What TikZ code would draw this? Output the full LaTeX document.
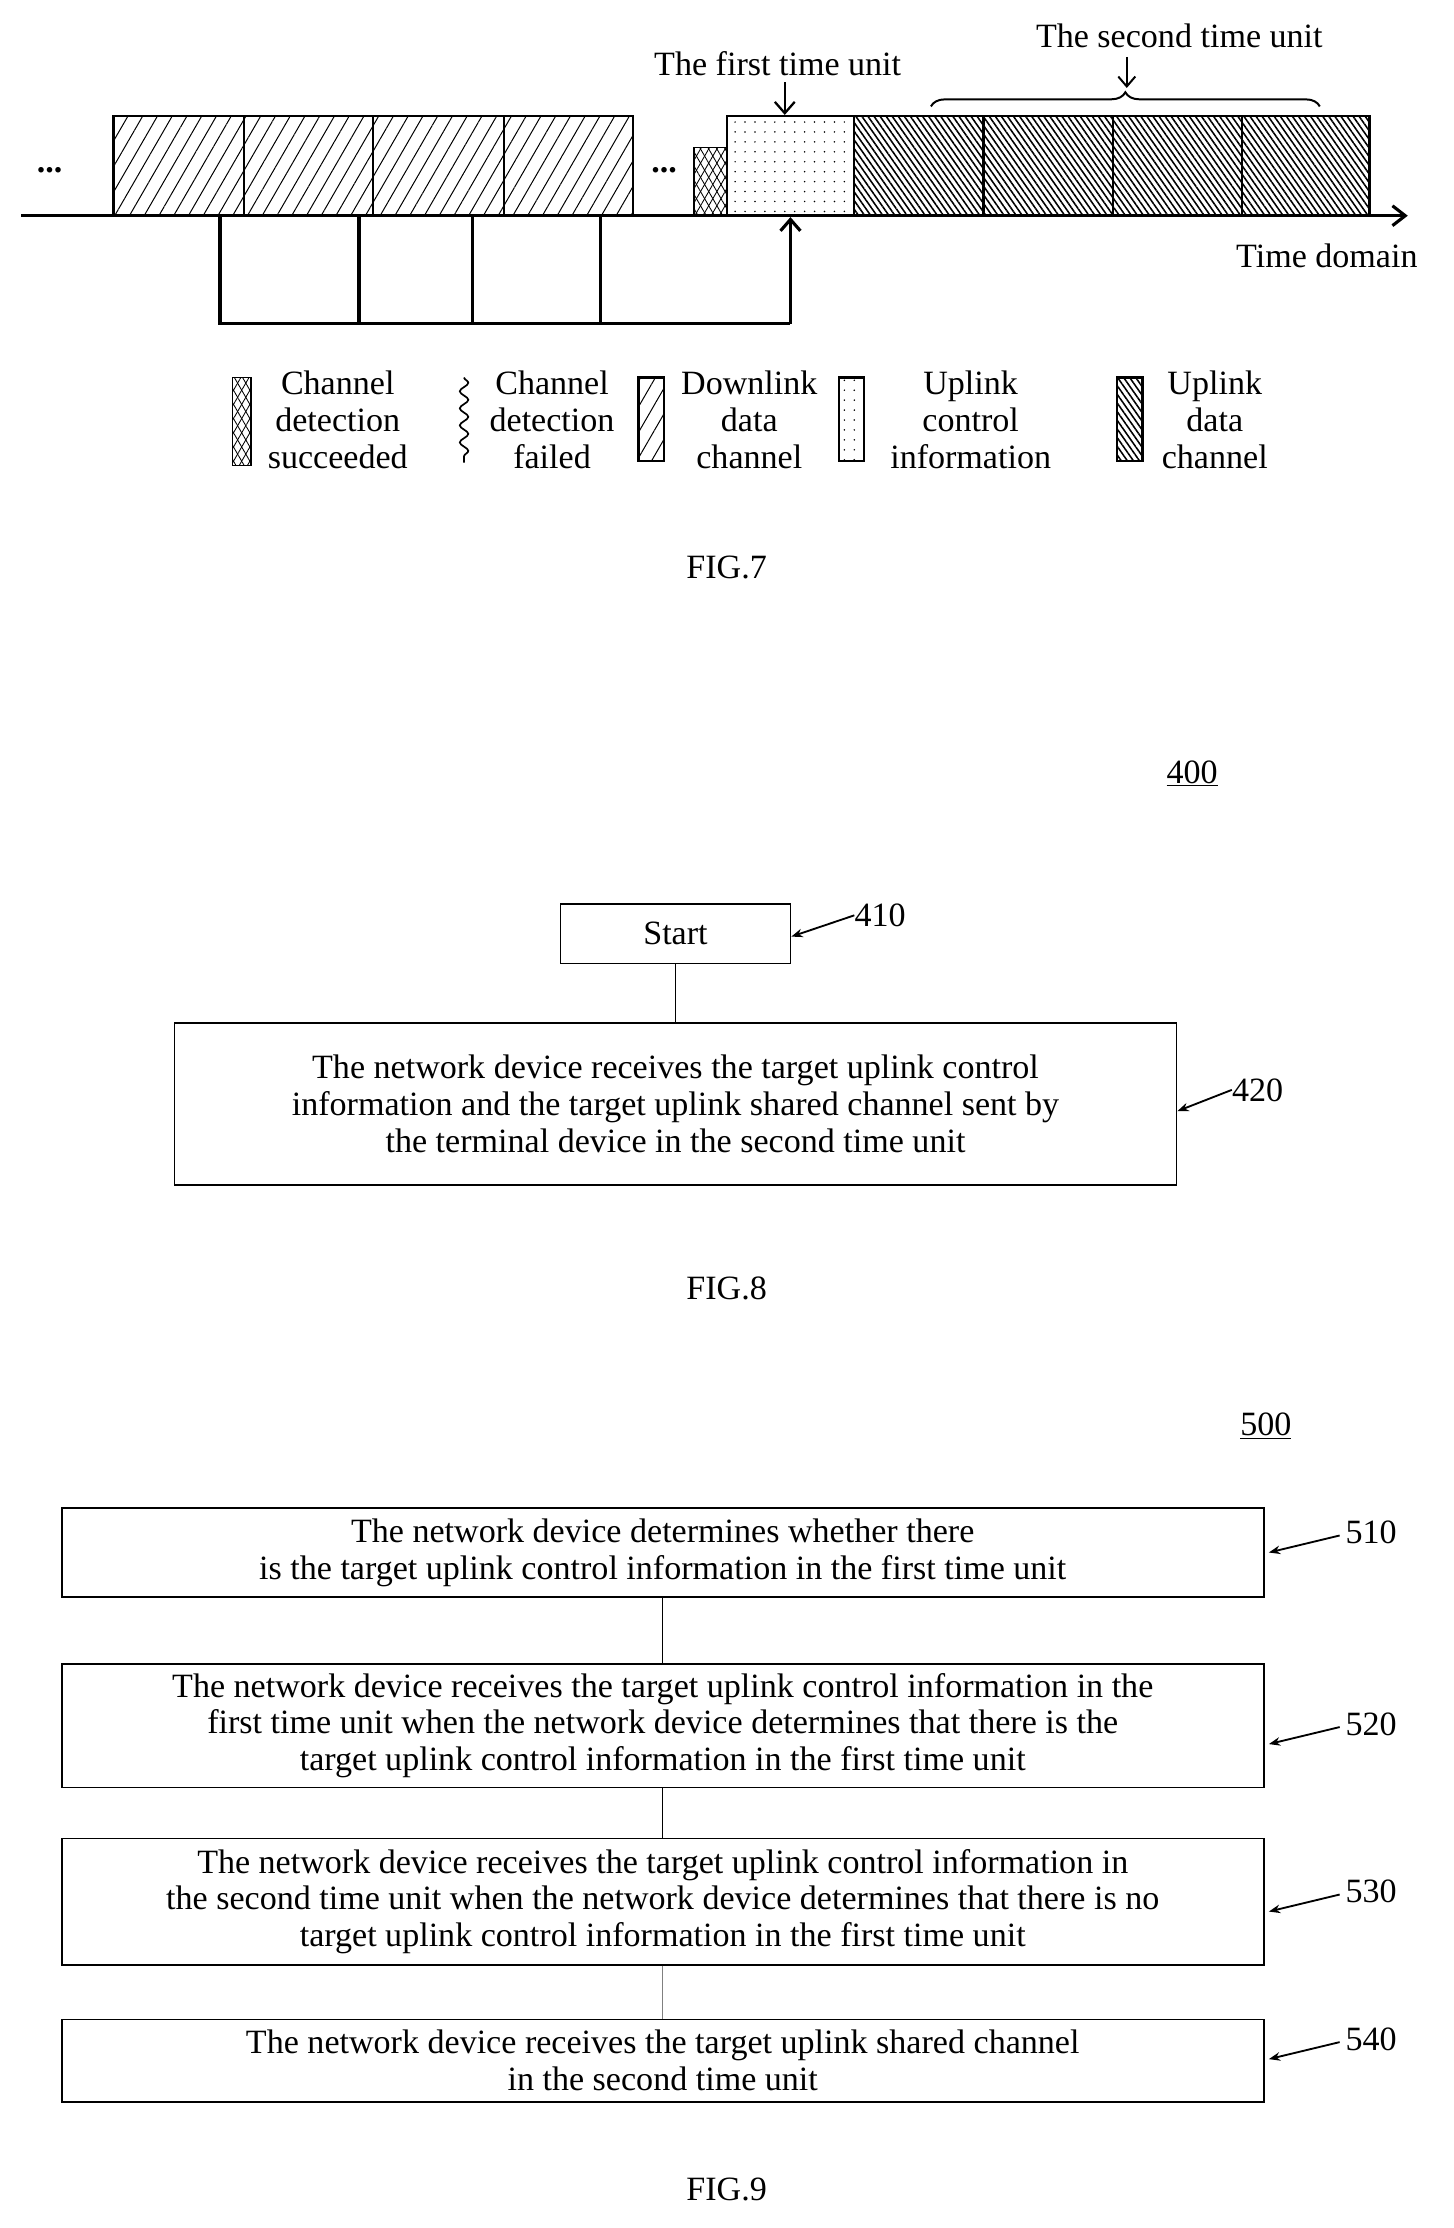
\documentclass[tikz,border=0pt]{standalone}
\usepackage{fontspec}
\setmainfont{Liberation Serif}
\usetikzlibrary{patterns,patterns.meta,arrows.meta,decorations.pathreplacing,decorations.pathmorphing}
\begin{document}
\begin{tikzpicture}[x=1pt,y=-1pt,
  txt/.style={font=\fontsize{24}{26}\selectfont,align=center,inner sep=0pt},
  box/.style={draw,line width=1.2pt,txt},
  thick line/.style={line width=2.2pt},
  dl/.style={pattern={Lines[angle=60,distance=9pt,line width=0.7pt]}},
  ul/.style={pattern={Lines[angle=-55,distance=3.5pt,line width=1.1pt]}},
  uci/.style={pattern={Dots[distance=7pt,radius=0.6pt]}},
  cd/.style={pattern={Lines[angle=60,distance=5pt,line width=0.6pt]},postaction={pattern={Lines[angle=-60,distance=5pt,line width=0.6pt]}}},
  lab/.style={-{Stealth[length=8pt,width=6pt]},line width=1.3pt}]
\useasboundingbox (0,0) rectangle (1024,1570);
% ---------- FIG 7 ----------
\foreach \a/\b in {80/172,172/263,263/355,355/446}{\draw[line width=1.5pt,dl] (\a,82) rectangle (\b,152);}
\draw[line width=1pt,cd] (489,104) rectangle (512,152);
\draw[line width=1.5pt,uci] (512,82) rectangle (602,152);
\foreach \a/\b in {602/693,693/784,784/875,875/965}{\draw[line width=1.5pt,ul] (\a,82) rectangle (\b,152);}
\coordinate (ax0) at (15,152); \coordinate (ax1) at (992,152);
\draw[thick line,-{Straight Barb[length=9pt,width=14pt]}] (ax0) -- (ax1);
\node[txt] (td) at (935,180) {Time domain};
\node[txt] (d1) at (35,120) {\textbf{...}};
\node[txt] (d2) at (468,120) {\textbf{...}};
% bracket below
\draw[thick line] (155,152) -- (155,228) -- (557,228);
\foreach \x in {253,333,423}{\draw[thick line] (\x,152) -- (\x,228);}
\coordinate (up) at (557,153);
\draw[thick line,-{Straight Barb[length=8pt,width=14pt]}] (557,228) -- (up);
\node[txt] (f1) at (548,45) {The first time unit};
\coordinate (f1t) at (553,81);
\draw[line width=1.6pt,-{Straight Barb[length=8pt,width=14pt]}] (553,58) -- (f1t);
\node[txt] (f2) at (831,25) {The second time unit};
\draw[line width=1.4pt,decorate,decoration={brace,amplitude=10pt,mirror}] (930,75) -- (656,75);
\coordinate (br) at (794,62);
\draw[line width=1.4pt,-{Straight Barb[length=7pt,width=12pt]}] (794,40) -- (br);
% legend
\draw[line width=1pt,cd] (164,266) rectangle (177,328);
\node[txt] (l1) at (238,296) {Channel\\detection\\succeeded};
\draw[line width=1.2pt,decorate,decoration={snake,amplitude=3pt,segment length=12pt}] (327,266) -- (327,326);
\node[txt] (l2) at (389,296) {Channel\\detection\\failed};
\draw[line width=1.6pt,dl] (450,266) rectangle (468,325);
\node[txt] (l3) at (528,296) {Downlink\\data\\channel};
\draw[line width=1.6pt,uci] (591,266) rectangle (609,325);
\node[txt] (l4) at (684,296) {Uplink\\control\\information};
\draw[line width=1.6pt,ul] (787,266) rectangle (805,325);
\node[txt] (l5) at (856,296) {Uplink\\data\\channel};
\node[txt] (fig7) at (512,400) {FIG.7};
% ---------- FIG 8 ----------
\node[txt] (n400) at (840,545) {\underline{400}};
\node[box,minimum width=162pt,minimum height=42pt] (start) at (476,658) {Start};
\node[box,minimum width=706pt,minimum height=114pt] (b420) at (476,778) {The network device receives the target uplink control\\information and the target uplink shared channel sent by\\the terminal device in the second time unit};
\draw[line width=1pt] (start) -- (b420);
\node[txt,anchor=west] (n410) at (602,645) {410};
\draw[lab] (n410.west) -- (start.east|-0,660);
\node[txt,anchor=west] (n420) at (868,768) {420};
\draw[lab] (n420.west) -- (b420.east|-0,783);
\node[txt] (fig8) at (512,908) {FIG.8};
% ---------- FIG 9 ----------
\node[txt] (n500) at (892,1005) {\underline{500}};
\node[box,minimum width=847pt,minimum height=63pt] (b510) at (467,1094) {The network device determines whether there\\is the target uplink control information in the first time unit};
\node[box,minimum width=847pt,minimum height=87pt] (b520) at (467,1216) {The network device receives the target uplink control information in the\\first time unit when the network device determines that there is the\\target uplink control information in the first time unit};
\node[box,minimum width=847pt,minimum height=89pt] (b530) at (467,1340) {The network device receives the target uplink control information in\\the second time unit when the network device determines that there is no\\target uplink control information in the first time unit};
\node[box,minimum width=847pt,minimum height=58pt] (b540) at (467,1452) {The network device receives the target uplink shared channel\\in the second time unit};
\draw[line width=1pt] (b510) -- (b520);
\draw[line width=1pt] (b520) -- (b530);
\draw[line width=0.5pt,gray] (b530) -- (b540);
\foreach \n/\b/\y in {510/b510/1080,520/b520/1215,530/b530/1333,540/b540/1437}{
  \node[txt,anchor=west] (n\n) at (948,\y) {\n};
  \draw[lab] (n\n.west)++(-4,2) -- ([xshift=3pt]\b.east|-0,\y+14);
}
\node[txt] (fig9) at (512,1543) {FIG.9};
\end{tikzpicture}
\end{document}
